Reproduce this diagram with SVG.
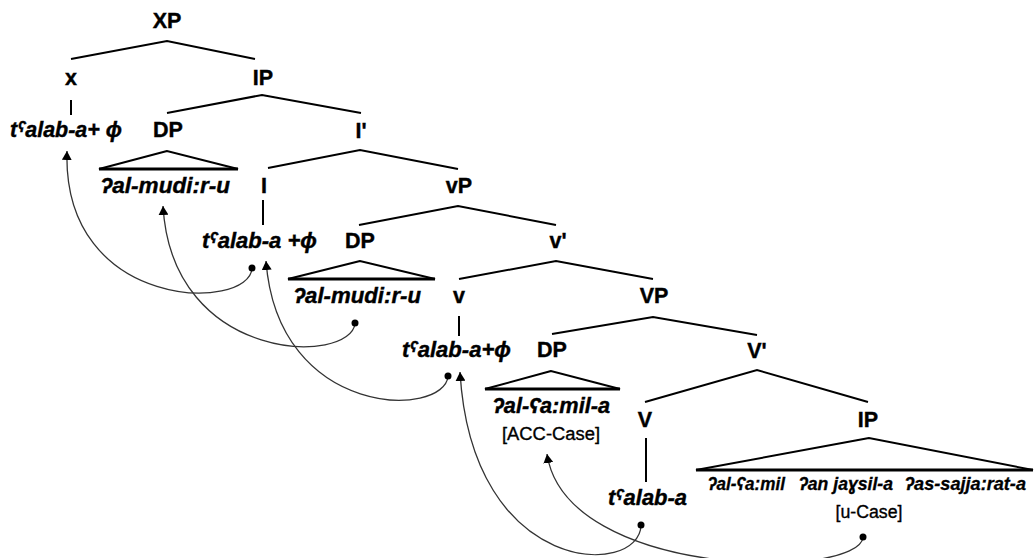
<svg xmlns="http://www.w3.org/2000/svg" width="1034" height="558" viewBox="0 0 1034 558">
<defs>
<style>
.n{font-family:"Liberation Sans",Arial,sans-serif;font-weight:bold;font-size:21.5px;fill:#000;stroke:#000;stroke-width:0.4;text-anchor:middle}
.w{font-family:"Liberation Sans",Arial,"DejaVu Sans",sans-serif;font-weight:bold;font-style:italic;font-size:22px;fill:#000;stroke:#000;stroke-width:0.4}
.s{font-family:"Liberation Sans",Arial,"DejaVu Sans",sans-serif;font-weight:bold;font-style:italic;font-size:17.5px;fill:#000;stroke:#000;stroke-width:0.3}
.c{font-family:"Liberation Sans",Arial,sans-serif;font-size:18px;fill:#000;stroke:#000;stroke-width:0.35}
.b{stroke:#000;stroke-width:2;fill:none}
.t{stroke:#000;stroke-width:2;fill:none;stroke-linejoin:miter}
.tb{stroke:#000;stroke-width:3;fill:none}
.a{stroke:#333;stroke-width:1.3;fill:none;marker-end:url(#ah)}
.d{fill:#000}
</style>
<marker id="ah" markerUnits="userSpaceOnUse" viewBox="0 0 9 10" refX="9" refY="5" markerWidth="9" markerHeight="10" orient="auto">
<path d="M0,0 L9,5 L0,10 z" fill="#000"/>
</marker>
</defs>

<g id="XP"><text class="n" x="167" y="28">XP</text><polyline class="b" points="71,59 167,41 255,59"/></g>
<g id="x"><text class="n" x="71" y="85">x</text><line class="b" x1="71" y1="100" x2="71" y2="115"/></g>
<g id="IP1"><text class="n" x="263" y="85">IP</text><polyline class="b" points="167,113 262,95 361,113"/></g>
<g id="word1"><text class="w" x="10" y="137" textLength="112" lengthAdjust="spacingAndGlyphs">tˤalab-a+ ϕ</text></g>
<g id="DP1"><text class="n" x="168" y="137">DP</text><polygon class="t" points="167,151 99,169 238,169"/><line class="tb" x1="99" y1="169" x2="238" y2="169"/></g>
<g id="word2"><text class="w" x="101" y="193" textLength="129" lengthAdjust="spacingAndGlyphs">ʔal-mudi:r-u</text></g>
<g id="Ibar"><text class="n" x="361" y="138">I'</text><polyline class="b" points="268,168 360,150 458,169"/></g>
<g id="I"><text class="n" x="264" y="193">I</text><line class="b" x1="263" y1="200" x2="263" y2="225"/></g>
<g id="vP"><text class="n" x="459" y="193">vP</text><polyline class="b" points="359,225 458,206 556,225"/></g>
<g id="word3"><text class="w" x="202" y="248" textLength="115" lengthAdjust="spacingAndGlyphs">tˤalab-a +ϕ</text></g>
<g id="DP2"><text class="n" x="360" y="248">DP</text><polygon class="t" points="360,261 288,279 435,279"/><line class="tb" x1="288" y1="279" x2="435" y2="279"/></g>
<g id="vbar"><text class="n" x="558" y="248">v'</text><polyline class="b" points="459,279 556,261 653,279"/></g>
<g id="word4"><text class="w" x="294" y="303" textLength="127" lengthAdjust="spacingAndGlyphs">ʔal-mudi:r-u</text></g>
<g id="v"><text class="n" x="459" y="303">v</text><line class="b" x1="459" y1="316" x2="459" y2="336"/></g>
<g id="VP"><text class="n" x="654" y="303">VP</text><polyline class="b" points="552,334 653,317 757,335"/></g>
<g id="word5"><text class="w" x="402" y="357" textLength="109" lengthAdjust="spacingAndGlyphs">tˤalab-a+ϕ</text></g>
<g id="DP3"><text class="n" x="552" y="357">DP</text><polygon class="t" points="551,371 485,389 620,389"/><line class="tb" x1="485" y1="389" x2="620" y2="389"/></g>
<g id="Vbar"><text class="n" x="757" y="358">V'</text><polyline class="b" points="645,402 757,370 868,402"/></g>
<g id="word6"><text class="w" x="493" y="413" textLength="117" lengthAdjust="spacingAndGlyphs">ʔal-ʕa:mil-a</text><text class="c" x="551" y="440" text-anchor="middle" textLength="98" lengthAdjust="spacingAndGlyphs">[ACC-Case]</text></g>
<g id="V"><text class="n" x="645" y="427">V</text><line class="b" x1="646" y1="438" x2="646" y2="482"/></g>
<g id="IP2"><text class="n" x="868" y="427">IP</text><polygon class="t" points="869,438 696,470 1033,470"/><line class="tb" x1="696" y1="470" x2="1033" y2="470"/></g>
<g id="word7"><text class="w" x="608" y="505" textLength="79" lengthAdjust="spacingAndGlyphs">tˤalab-a</text></g>
<g id="word8"><text class="s" x="708" y="490" textLength="77" lengthAdjust="spacingAndGlyphs">ʔal-ʕa:mil</text><text class="s" x="799" y="490" textLength="94" lengthAdjust="spacingAndGlyphs">ʔan jaɣsil-a</text><text class="s" x="905" y="490" textLength="121" lengthAdjust="spacingAndGlyphs">ʔas-sajja:rat-a</text><text class="c" x="869" y="518" text-anchor="middle" textLength="67" lengthAdjust="spacingAndGlyphs">[u-Case]</text></g>

<g id="connectors">
<path class="a" d="M252,268 C250,312 62,312 67,151"/>
<circle class="d" cx="252" cy="268" r="3.5"/>
<path class="a" d="M355,323 C352,365 172,365 163,206"/>
<circle class="d" cx="355" cy="323" r="3.5"/>
<path class="a" d="M448,376 C445,418 278,420 266,261"/>
<circle class="d" cx="448" cy="376" r="3.5"/>
<path class="a" d="M641,525 C640,578 472,578 460,372"/>
<circle class="d" cx="641" cy="525" r="3.5"/>
<path class="a" d="M863,537 C860,580 566,580 547,454"/>
<circle class="d" cx="863" cy="537" r="3.5"/>
</g>
</svg>
